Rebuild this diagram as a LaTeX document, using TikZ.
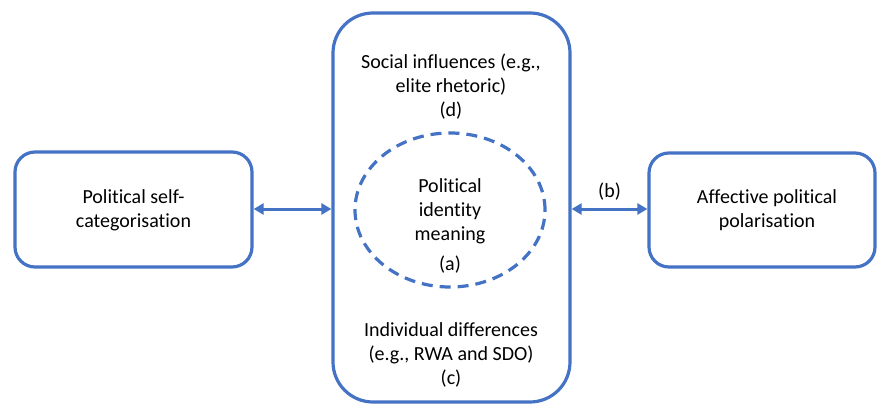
\documentclass[tikz,border=0pt]{standalone}
\usepackage{fontspec}
\setmainfont{Carlito}[Ligatures=NoCommon]
\usetikzlibrary{arrows.meta,shapes.geometric}
\definecolor{bl}{HTML}{4472C4}
\begin{document}
\begin{tikzpicture}[x=1pt,y=1pt,
  box/.style={draw=bl, line width=3.2pt, rounded corners=20pt, align=center, inner sep=0pt},
  txt/.style={align=center, inner sep=0pt, font=\fontsize{20}{24}\selectfont},
  arr/.style={{Triangle[length=10pt,width=11pt]}-{Triangle[length=10pt,width=11pt]}, draw=bl, line width=3pt},
  dashell/.style={draw=bl, line width=3.2pt, ellipse, dash pattern=on 11pt off 7pt, inner sep=0pt}]
\useasboundingbox (0,0) rectangle (877,405);
% boxes
\node[box, minimum width=237pt, minimum height=115pt] (L) at (133.5,195.5) {};
\node[box, rounded corners=40pt, minimum width=237pt, minimum height=389pt] (C) at (451.5,197.5) {};
\node[box, minimum width=226pt, minimum height=114pt] (R) at (762,195) {};
\node[dashell, minimum width=190pt, minimum height=154pt] (E) at (450,195) {};
% texts
\node[txt] (Lt) at (133.5,195) {Political self-\\categorisation};
\node[txt] (Rt) at (767,195) {Affective political\\polarisation};
\node[txt] (St) at (451,318) {Social influences (e.g.,\\elite rhetoric)\\(d)};
\node[txt] (Et) at (450,194) {Political\\identity\\meaning};
\node[txt] (Ea) at (450,140) {(a)};
\node[txt] (It) at (451,50) {Individual differences\\(e.g., RWA and SDO)\\(c)};
% arrows
\coordinate (la) at (L.east |- 0,196);
\coordinate (lb) at (C.west |- 0,196);
\coordinate (ra) at (C.east |- 0,196);
\coordinate (rb) at (R.west |- 0,196);
\draw[arr] (la) -- (lb);
\draw[arr] (ra) -- node[txt, above=7pt] (B) {(b)} (rb);
\end{tikzpicture}
\end{document}
